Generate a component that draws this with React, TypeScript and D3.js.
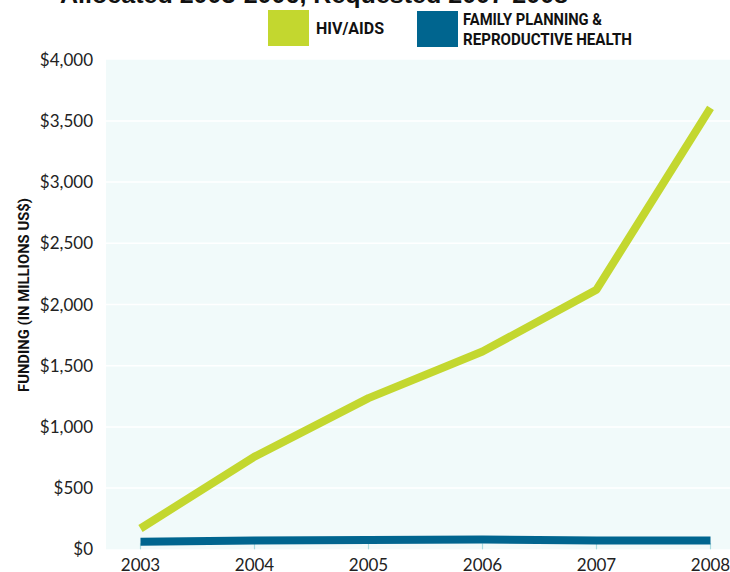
import React from "react";
import * as d3 from "d3";

const years = [2003, 2004, 2005, 2006, 2007, 2008];
const hivAids = [170, 757, 1235, 1616, 2121, 3607];
const familyPlanning = [62, 72, 76, 80, 72, 72];
const yTicks = [0, 500, 1000, 1500, 2000, 2500, 3000, 3500, 4000];
const titleText = "Allocated 2003-2006, Requested 2007-2008";
const legendItems = [
  { label: ["HIV/AIDS"], color: "#c3d72f" },
  { label: ["FAMILY PLANNING &", "REPRODUCTIVE HEALTH"], color: "#00658f" },
];

const W = 730;
const H = 572;
const plot = { left: 106, right: 730, top: 59.7, bottom: 549.3 };

export default function App() {
  const x = d3.scaleLinear().domain([2003, 2008]).range([140.5, 710.5]);
  const y = d3.scaleLinear().domain([0, 4000]).range([plot.bottom, plot.top]);
  const line = d3
    .line<number>()
    .x((_, i) => x(years[i]))
    .y((d) => y(d));
  const fmt = (v: number) => "$" + d3.format(",")(v);
  const tickFont = "Lato, 'Open Sans', sans-serif";
  const boldFont = "'Liberation Sans Narrow', 'Roboto', sans-serif";

  return (
    <svg
      width={W}
      height={H}
      style={{ position: "fixed", left: 0, top: 0, background: "#fff" }}
    >
      <text
        x={60}
        y={3}
        fontFamily="'Liberation Sans', Arial, sans-serif"
        fontWeight="bold"
        fontSize={24}
        textLength={508}
        lengthAdjust="spacingAndGlyphs"
        fill="#111"
      >
        {titleText}
      </text>

      {/* legend */}
      <rect x={268} y={10} width={41} height={36} fill={legendItems[0].color} />
      <text
        x={316}
        y={34}
        fontFamily={boldFont}
        fontWeight="bold"
        fontSize={16}
        textLength={68}
        lengthAdjust="spacingAndGlyphs"
        fill="#111"
      >
        {legendItems[0].label[0]}
      </text>
      <rect x={417} y={11} width={41} height={36} fill={legendItems[1].color} />
      <text
        x={463}
        y={25}
        fontFamily={boldFont}
        fontWeight="bold"
        fontSize={16}
        textLength={139}
        lengthAdjust="spacingAndGlyphs"
        fill="#111"
      >
        {legendItems[1].label[0]}
      </text>
      <text
        x={463}
        y={44.5}
        fontFamily={boldFont}
        fontWeight="bold"
        fontSize={16}
        textLength={169}
        lengthAdjust="spacingAndGlyphs"
        fill="#111"
      >
        {legendItems[1].label[1]}
      </text>

      {/* plot background */}
      <rect
        x={plot.left}
        y={plot.top}
        width={plot.right - plot.left}
        height={plot.bottom - plot.top}
        fill="#f1fafa"
      />
      {yTicks
        .filter((t) => t > 0 && t < 4000)
        .map((t) => (
          <line
            key={"g" + t}
            x1={plot.left}
            x2={plot.right}
            y1={y(t)}
            y2={y(t)}
            stroke="#ffffff"
            strokeWidth={1.5}
          />
        ))}
      {years.map((yr) => (
        <line
          key={"t" + yr}
          x1={x(yr)}
          x2={x(yr)}
          y1={plot.bottom - 6}
          y2={plot.bottom}
          stroke="#a9dbe0"
          strokeWidth={1.2}
        />
      ))}

      {/* y tick labels */}
      {yTicks.map((t) => (
        <text
          key={"yl" + t}
          x={93}
          y={y(t)}
          dy="0.36em"
          textAnchor="end"
          fontFamily={tickFont}
          fontSize={17}
          fill="#222"
        >
          {fmt(t)}
        </text>
      ))}
      {/* x tick labels */}
      {years.map((yr) => (
        <text
          key={"xl" + yr}
          x={x(yr)}
          y={571}
          textAnchor="middle"
          fontFamily={tickFont}
          fontSize={17}
          fill="#222"
        >
          {yr}
        </text>
      ))}

      {/* y axis title */}
      <text
        transform={`translate(28.5, 295) rotate(-90)`}
        textAnchor="middle"
        fontFamily={boldFont}
        fontWeight="bold"
        fontSize={15}
        textLength={194}
        lengthAdjust="spacingAndGlyphs"
        fill="#111"
      >
        FUNDING (IN MILLIONS US$)
      </text>

      {/* lines */}
      <path
        d={line(familyPlanning) || ""}
        fill="none"
        stroke={legendItems[1].color}
        strokeWidth={8}
        strokeLinejoin="round"
      />
      <path
        d={line(hivAids) || ""}
        fill="none"
        stroke={legendItems[0].color}
        strokeWidth={8}
        strokeLinejoin="round"
      />
    </svg>
  );
}
